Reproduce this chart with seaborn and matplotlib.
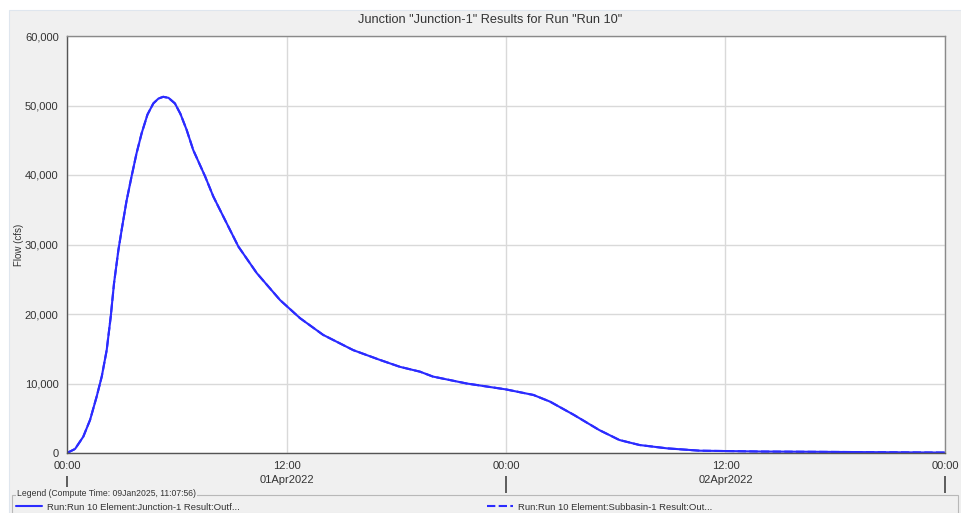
import matplotlib
matplotlib.use("Agg")
import matplotlib.pyplot as plt
import seaborn as sns
from matplotlib.patches import Rectangle
from matplotlib.ticker import FuncFormatter

# hours since 01Apr2022 00:00, flow in cfs
hours = [0, 0.44, 0.89, 1.26, 1.62, 1.9, 2.17, 2.39, 2.57, 2.81, 3.0, 3.25, 3.53,
         3.8, 4.08, 4.4, 4.72, 5.0, 5.26, 5.55, 5.9, 6.2, 6.54, 6.9, 7.55, 8.0,
         8.55, 9.37, 10.37, 11.65, 12.74, 14.0, 15.65, 17.1, 18.2, 19.3, 20.0,
         21.85, 24.0, 25.5, 26.4, 27.7, 29.1, 30.2, 31.3, 32.8, 34.6, 38.0, 41.0,
         44.0, 48.0]
junction_flow = [0, 580, 2350, 4750, 8100, 11000, 14800, 19600, 24400, 29200, 32300,
                 36200, 39800, 43100, 46000, 48700, 50300, 51000, 51250, 51100, 50300,
                 48800, 46500, 43600, 39800, 36900, 34000, 29700, 25900, 22000, 19400,
                 17000, 14800, 13400, 12400, 11700, 11000, 10000, 9150, 8350, 7400,
                 5500, 3300, 1870, 1150, 670, 330, 210, 170, 120, 60]
subbasin_flow = list(junction_flow)  # plotted on top of the junction curve

x_ticks = [0, 12, 24, 36, 48]
x_labels = ["00:00", "12:00\n01Apr2022", "00:00", "12:00\n02Apr2022", "00:00"]
y_ticks = [0, 10000, 20000, 30000, 40000, 50000, 60000]

title = 'Junction "Junction-1" Results for Run "Run 10"'
legend_title = "Legend (Compute Time: 09Jan2025, 11:07:56)"
name_junction = "Run:Run 10 Element:Junction-1 Result:Outf..."
name_subbasin = "Run:Run 10 Element:Subbasin-1 Result:Out..."

sns.set_style("white")
plt.rcParams["font.family"] = ["Liberation Sans", "DejaVu Sans"]

W, H = 961, 513
fig = plt.figure(figsize=(W / 100, H / 100), dpi=100, facecolor="white")
# grey window panel
fig.patches.append(Rectangle((9 / W, 0), 1 - 9 / W, 1 - 10 / H, transform=fig.transFigure,
                             facecolor="#f0f0f0", edgecolor="#dfe6ee", lw=0.8, zorder=-5))

ax = fig.add_axes([67 / W, 60 / H, 878 / W, 417 / H])
ax.set_facecolor("white")

blue = "#2b2bff"
sns.lineplot(x=hours, y=junction_flow, ax=ax, color=blue, lw=1.5, label=name_junction)
sns.lineplot(x=hours, y=subbasin_flow, ax=ax, color=blue, lw=1.5, ls=(0, (4, 1.6)),
             label=name_subbasin)
ax.get_legend().remove()

ax.set_xlim(0, 48)
ax.set_ylim(0, 60000)
ax.set_xticks(x_ticks)
ax.set_xticklabels(x_labels, linespacing=1.45, va="top")
ax.set_yticks(y_ticks)
ax.yaxis.set_major_formatter(FuncFormatter(lambda v, p: f"{int(v):,}"))
ax.grid(True, color="#d9d9d9", lw=1.0)
ax.set_axisbelow(True)
ax.tick_params(axis="both", direction="out", length=4, width=1, color="#505050",
               labelsize=8, labelcolor="#333333", pad=2)
for side in ["top", "right"]:
    ax.spines[side].set_color("#8a8a8a")
for side in ["left", "bottom"]:
    ax.spines[side].set_color("#555555")
for s in ax.spines.values():
    s.set_linewidth(1.0)
ax.set_ylabel("Flow (cfs)", fontsize=7, color="#333333", labelpad=1)
ax.set_xlabel("")

# day boundary marks below the date labels
sec = ax.secondary_xaxis(location=-0.055)
sec.set_xticks([0, 24, 48])
sec.set_xticklabels([])
sec.tick_params(direction="out", length=12, width=1.2, color="#444444")
sec.spines["bottom"].set_visible(False)

fig.text(490 / W, 1 - 20 / H, title, ha="center", va="center", fontsize=9.2, color="#333333")

# legend box
fig.patches.append(Rectangle((12 / W, -0.01), 946 / W, 23 / H, transform=fig.transFigure,
                             facecolor="none", edgecolor="#b8b8b8", lw=0.8, zorder=1))
fig.text(17 / W, 1 - 493 / H, legend_title, ha="left", va="center", fontsize=6.2,
         color="#333333", bbox=dict(facecolor="#f0f0f0", edgecolor="none", pad=1))

h = ax.get_lines()
for line, label, x0 in [(h[0], name_junction, 16), (h[1], name_subbasin, 487)]:
    fig.legend([line], [label], loc="center left", bbox_to_anchor=(x0 / W, 1 - 507 / H),
               frameon=False, fontsize=6.8, handlelength=2.75, handletextpad=0.5,
               borderpad=0, borderaxespad=0, labelcolor="#333333")

fig.savefig("out.png", dpi=100, facecolor=fig.get_facecolor())
